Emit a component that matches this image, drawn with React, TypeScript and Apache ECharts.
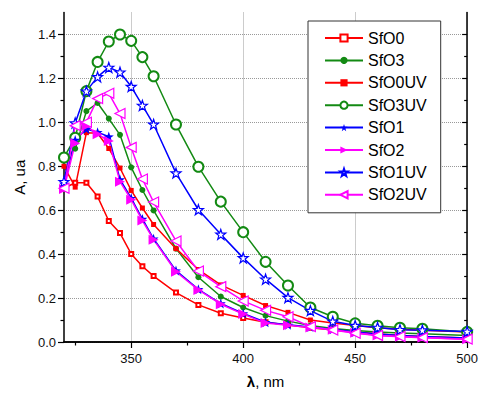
import React, { useEffect, useRef } from "react";
import * as echarts from "echarts";

const wavelengths = [320, 325, 330, 335, 340, 345, 350, 355, 360, 370, 380, 390, 400, 410, 420, 430, 440, 450, 460, 470, 480, 500];

const sfo0 = [0.70, 0.725, 0.725, 0.662, 0.551, 0.496, 0.401, 0.345, 0.30, 0.225, 0.169, 0.131, 0.109, 0.09, 0.077, 0.065, 0.055, 0.045, 0.037, 0.03, 0.025, 0.018];
const sfo3 = [0.83, 0.88, 1.051, 1.088, 1.017, 0.943, 0.795, 0.692, 0.599, 0.425, 0.295, 0.207, 0.157, 0.12, 0.095, 0.075, 0.062, 0.052, 0.046, 0.041, 0.037, 0.03];
const sfo0uv = [0.80, 0.705, 0.953, 0.95, 0.881, 0.792, 0.69, 0.61, 0.535, 0.425, 0.33, 0.26, 0.212, 0.166, 0.135, 0.1, 0.086, 0.075, 0.065, 0.058, 0.053, 0.045];
const sfo3uv = [0.84, 0.93, 1.142, 1.275, 1.368, 1.40, 1.371, 1.297, 1.21, 0.99, 0.798, 0.639, 0.50, 0.365, 0.257, 0.157, 0.115, 0.085, 0.074, 0.065, 0.06, 0.046];
const sfo1 = [0.72, 0.92, 0.97, 0.955, 0.935, 0.74, 0.655, 0.56, 0.47, 0.325, 0.24, 0.175, 0.13, 0.09, 0.078, 0.068, 0.058, 0.045, 0.036, 0.03, 0.025, 0.018];
const sfo2 = [0.697, 0.905, 0.983, 0.946, 0.915, 0.73, 0.648, 0.553, 0.466, 0.32, 0.237, 0.172, 0.127, 0.086, 0.076, 0.066, 0.056, 0.042, 0.03, 0.024, 0.019, 0.012];
const sfo1uv = [0.73, 0.997, 1.142, 1.207, 1.25, 1.228, 1.163, 1.077, 0.991, 0.769, 0.602, 0.49, 0.383, 0.286, 0.202, 0.143, 0.094, 0.075, 0.066, 0.056, 0.054, 0.048];
const sfo2uv = [0.70, 0.985, 1.0, 1.108, 1.132, 1.04, 0.886, 0.742, 0.637, 0.46, 0.323, 0.252, 0.187, 0.144, 0.115, 0.07, 0.055, 0.04, 0.03, 0.025, 0.02, 0.013];

const xMajor = [350, 400, 450, 500];
const xMinor = [325, 375, 425, 475];
const yMajor = [0, 0.2, 0.4, 0.6, 0.8, 1.0, 1.2, 1.4];
const yMinor = [0.1, 0.3, 0.5, 0.7, 0.9, 1.1, 1.3];

const STAR = "path://M5,0L6.18,3.4L9.76,3.45L6.9,5.6L7.94,9.05L5,7L2.06,9.05L3.1,5.6L0.24,3.45L3.82,3.4Z";
const TRI_R = "path://M0,0L10,5L0,10Z";
const TRI_L = "path://M10,0L0,5L10,10Z";

const RED = "#ff0000";
const GREEN = "#138a13";
const BLUE = "#0000ff";
const MAGENTA = "#ff00ff";
const FONT = "Liberation Sans";

function mk(name: string, ys: number[], color: string, symbol: string, size: number, open: boolean) {
  const itemStyle = open && symbol.startsWith("path://")
    ? { color: "#ffffff", borderColor: color, borderWidth: 1.2 }
    : { color };
  return {
    name,
    type: "line",
    data: wavelengths.map((x, i) => [x, ys[i]]),
    symbol,
    symbolSize: size,
    showAllSymbol: true,
    lineStyle: { color, width: 1.5 },
    itemStyle,
  };
}

const axisLine = { show: true, lineStyle: { color: "#000", width: 1.5 } };
const tickStyle = { color: "#000", width: 1.2 };

export default function App() {
  const ref = useRef<HTMLDivElement>(null);
  useEffect(() => {
    if (!ref.current) return;
    const chart = echarts.init(ref.current, undefined, { renderer: "svg" });
    const series = [
      mk("SfO0", sfo0, RED, "emptyRect", 4, true),
      mk("SfO3", sfo3, GREEN, "circle", 6, false),
      mk("SfO0UV", sfo0uv, RED, "rect", 5, false),
      mk("SfO3UV", sfo3uv, GREEN, "emptyCircle", 10, true),
      mk("SfO1", sfo1, BLUE, STAR, 10, false),
      mk("SfO2", sfo2, MAGENTA, TRI_R, 10, false),
      mk("SfO1UV", sfo1uv, BLUE, STAR, 10, true),
      mk("SfO2UV", sfo2uv, MAGENTA, TRI_L, 10, true),
    ];
    chart.setOption({
      animation: false,
      backgroundColor: "#fff",
      grid: { left: 64, right: 12, top: 12.5, bottom: 50, containLabel: false },
      legend: {
        orient: "vertical",
        left: 308,
        top: 21,
        itemWidth: 38,
        itemHeight: 9,
        itemGap: 6.4,
        padding: [9, 14, 10, 16],
        borderColor: "#333",
        borderWidth: 1,
        backgroundColor: "#fff",
        textStyle: { fontSize: 16, fontFamily: FONT, color: "#000", lineHeight: 14 },
        data: series.map((s) => s.name),
      },
      xAxis: [
        {
          type: "value", min: 320, max: 500, position: "bottom",
          axisLine,
          axisTick: { show: true, length: 6, inside: false, customValues: xMajor, lineStyle: tickStyle },
          axisLabel: { customValues: xMajor, margin: 10, fontSize: 13, fontFamily: FONT, color: "#111" },
          splitLine: { show: true, lineStyle: { type: "dotted", color: "#999", width: 1 } },
          name: "{b|λ}, nm",
          nameLocation: "middle",
          nameGap: 32,
          nameTextStyle: { fontSize: 15, fontFamily: FONT, color: "#000", rich: { b: { fontSize: 15, fontWeight: "bold", fontFamily: FONT, color: "#000" } } },
        },
        {
          type: "value", min: 320, max: 500, position: "bottom",
          axisLine: { show: false },
          axisTick: { show: true, length: 3.5, customValues: xMinor, lineStyle: tickStyle },
          axisLabel: { show: false },
          splitLine: { show: false },
        },
        {
          type: "value", min: 320, max: 500, position: "top",
          axisLine,
          axisTick: { show: false },
          axisLabel: { show: false },
          splitLine: { show: false },
        },
      ],
      yAxis: [
        {
          type: "value", min: 0, max: 1.5, position: "left",
          axisLine,
          axisTick: { show: true, length: 6, customValues: yMajor, lineStyle: tickStyle },
          axisLabel: { customValues: yMajor, margin: 8, fontSize: 13, fontFamily: FONT, color: "#111", formatter: (v: number) => v.toFixed(1) },
          splitLine: { show: true, lineStyle: { type: "dotted", color: "#999", width: 1 } },
          name: "A, ua",
          nameLocation: "middle",
          nameGap: 34,
          nameTextStyle: { fontSize: 15, fontFamily: FONT, color: "#000" },
        },
        {
          type: "value", min: 0, max: 1.5, position: "left",
          axisLine: { show: false },
          axisTick: { show: true, length: 3.5, customValues: yMinor, lineStyle: tickStyle },
          axisLabel: { show: false },
          splitLine: { show: false },
        },
        {
          type: "value", min: 0, max: 1.5, position: "right",
          axisLine,
          axisTick: { show: true, inside: true, length: 5, customValues: yMajor, lineStyle: tickStyle },
          axisLabel: { show: false },
          splitLine: { show: false },
        },
        {
          type: "value", min: 0, max: 1.5, position: "right",
          axisLine: { show: false },
          axisTick: { show: true, inside: true, length: 3, customValues: yMinor, lineStyle: tickStyle },
          axisLabel: { show: false },
          splitLine: { show: false },
        },
      ],
      series,
    });
    return () => chart.dispose();
  }, []);
  return <div ref={ref} style={{ position: "fixed", left: 0, top: 0, width: 481, height: 394 }} />;
}
